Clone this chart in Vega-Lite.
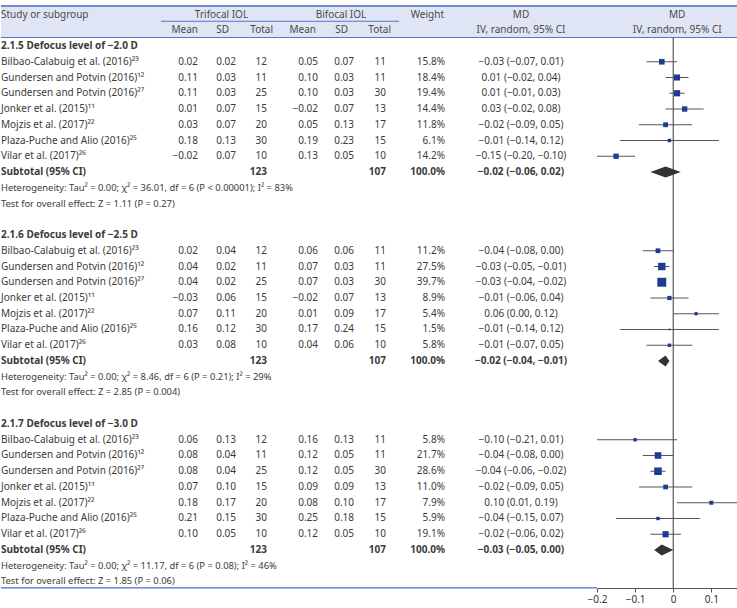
{
"$schema": "https://vega.github.io/schema/vega-lite/v6.json",
"padding": 0,
"autosize": {"type": "pad"},
"background": "white",
"spacing": 0,
"bounds": "flush",
"config": {
 "view": {"stroke": null},
 "text": {"font": "Noto Sans", "fontSize": 10, "color": "#3b3b3b", "baseline": "middle"},
 "concat": {"spacing": 0}
},
"datasets": {"rows": [
{"row":0,"kind":"group","label":"2.1.5 Defocus level of −2.0 D"},
{"row":1,"kind":"study","label":"Bilbao-Calabuig et al. (2016)²³","tm":0.02,"tsd":0.02,"tn":12,"bm":0.05,"bsd":0.07,"bn":11,"w":0.158,"md":"−0.03 (−0.07, 0.01)","est":-0.03,"lo":-0.07,"hi":0.01},
{"row":2,"kind":"study","label":"Gundersen and Potvin (2016)¹²","tm":0.11,"tsd":0.03,"tn":11,"bm":0.10,"bsd":0.03,"bn":11,"w":0.184,"md":"0.01 (−0.02, 0.04)","est":0.01,"lo":-0.02,"hi":0.04},
{"row":3,"kind":"study","label":"Gundersen and Potvin (2016)²⁷","tm":0.11,"tsd":0.03,"tn":25,"bm":0.10,"bsd":0.03,"bn":30,"w":0.194,"md":"0.01 (−0.01, 0.03)","est":0.01,"lo":-0.01,"hi":0.03},
{"row":4,"kind":"study","label":"Jonker et al. (2015)¹¹","tm":0.01,"tsd":0.07,"tn":15,"bm":-0.02,"bsd":0.07,"bn":13,"w":0.144,"md":"0.03 (−0.02, 0.08)","est":0.03,"lo":-0.02,"hi":0.08},
{"row":5,"kind":"study","label":"Mojzis et al. (2017)²²","tm":0.03,"tsd":0.07,"tn":20,"bm":0.05,"bsd":0.13,"bn":17,"w":0.118,"md":"−0.02 (−0.09, 0.05)","est":-0.02,"lo":-0.09,"hi":0.05},
{"row":6,"kind":"study","label":"Plaza-Puche and Alio (2016)²⁵","tm":0.18,"tsd":0.13,"tn":30,"bm":0.19,"bsd":0.23,"bn":15,"w":0.061,"md":"−0.01 (−0.14, 0.12)","est":-0.01,"lo":-0.14,"hi":0.12},
{"row":7,"kind":"study","label":"Vilar et al. (2017)²⁶","tm":-0.02,"tsd":0.07,"tn":10,"bm":0.13,"bsd":0.05,"bn":10,"w":0.142,"md":"−0.15 (−0.20, −0.10)","est":-0.15,"lo":-0.20,"hi":-0.10},
{"row":8,"kind":"sub","label":"Subtotal (95% CI)","tn":123,"bn":107,"w":1,"md":"−0.02 (−0.06, 0.02)","est":-0.02,"lo":-0.06,"hi":0.02},
{"row":9,"kind":"het","label":"Heterogeneity: Tau² = 0.00; χ² = 36.01, df = 6 (P < 0.00001); I² = 83%"},
{"row":10,"kind":"test","label":"Test for overall effect: Z = 1.11 (P = 0.27)"},
{"row":12,"kind":"group","label":"2.1.6 Defocus level of −2.5 D"},
{"row":13,"kind":"study","label":"Bilbao-Calabuig et al. (2016)²³","tm":0.02,"tsd":0.04,"tn":12,"bm":0.06,"bsd":0.06,"bn":11,"w":0.112,"md":"−0.04 (−0.08, 0.00)","est":-0.04,"lo":-0.08,"hi":0.00},
{"row":14,"kind":"study","label":"Gundersen and Potvin (2016)¹²","tm":0.04,"tsd":0.02,"tn":11,"bm":0.07,"bsd":0.03,"bn":11,"w":0.275,"md":"−0.03 (−0.05, −0.01)","est":-0.03,"lo":-0.05,"hi":-0.01},
{"row":15,"kind":"study","label":"Gundersen and Potvin (2016)²⁷","tm":0.04,"tsd":0.02,"tn":25,"bm":0.07,"bsd":0.03,"bn":30,"w":0.397,"md":"−0.03 (−0.04, −0.02)","est":-0.03,"lo":-0.04,"hi":-0.02},
{"row":16,"kind":"study","label":"Jonker et al. (2015)¹¹","tm":-0.03,"tsd":0.06,"tn":15,"bm":-0.02,"bsd":0.07,"bn":13,"w":0.089,"md":"−0.01 (−0.06, 0.04)","est":-0.01,"lo":-0.06,"hi":0.04},
{"row":17,"kind":"study","label":"Mojzis et al. (2017)²²","tm":0.07,"tsd":0.11,"tn":20,"bm":0.01,"bsd":0.09,"bn":17,"w":0.054,"md":"0.06 (0.00, 0.12)","est":0.06,"lo":0.00,"hi":0.12},
{"row":18,"kind":"study","label":"Plaza-Puche and Alio (2016)²⁵","tm":0.16,"tsd":0.12,"tn":30,"bm":0.17,"bsd":0.24,"bn":15,"w":0.015,"md":"−0.01 (−0.14, 0.12)","est":-0.01,"lo":-0.14,"hi":0.12},
{"row":19,"kind":"study","label":"Vilar et al. (2017)²⁶","tm":0.03,"tsd":0.08,"tn":10,"bm":0.04,"bsd":0.06,"bn":10,"w":0.058,"md":"−0.01 (−0.07, 0.05)","est":-0.01,"lo":-0.07,"hi":0.05},
{"row":20,"kind":"sub","label":"Subtotal (95% CI)","tn":123,"bn":107,"w":1,"md":"−0.02 (−0.04, −0.01)","est":-0.02,"lo":-0.04,"hi":-0.01},
{"row":21,"kind":"het","label":"Heterogeneity: Tau² = 0.00; χ² = 8.46, df = 6 (P = 0.21); I² = 29%"},
{"row":22,"kind":"test","label":"Test for overall effect: Z = 2.85 (P = 0.004)"},
{"row":24,"kind":"group","label":"2.1.7 Defocus level of −3.0 D"},
{"row":25,"kind":"study","label":"Bilbao-Calabuig et al. (2016)²³","tm":0.06,"tsd":0.13,"tn":12,"bm":0.16,"bsd":0.13,"bn":11,"w":0.058,"md":"−0.10 (−0.21, 0.01)","est":-0.10,"lo":-0.21,"hi":0.01},
{"row":26,"kind":"study","label":"Gundersen and Potvin (2016)¹²","tm":0.08,"tsd":0.04,"tn":11,"bm":0.12,"bsd":0.05,"bn":11,"w":0.217,"md":"−0.04 (−0.08, 0.00)","est":-0.04,"lo":-0.08,"hi":0.00},
{"row":27,"kind":"study","label":"Gundersen and Potvin (2016)²⁷","tm":0.08,"tsd":0.04,"tn":25,"bm":0.12,"bsd":0.05,"bn":30,"w":0.286,"md":"−0.04 (−0.06, −0.02)","est":-0.04,"lo":-0.06,"hi":-0.02},
{"row":28,"kind":"study","label":"Jonker et al. (2015)¹¹","tm":0.07,"tsd":0.10,"tn":15,"bm":0.09,"bsd":0.09,"bn":13,"w":0.110,"md":"−0.02 (−0.09, 0.05)","est":-0.02,"lo":-0.09,"hi":0.05},
{"row":29,"kind":"study","label":"Mojzis et al. (2017)²²","tm":0.18,"tsd":0.17,"tn":20,"bm":0.08,"bsd":0.10,"bn":17,"w":0.079,"md":"0.10 (0.01, 0.19)","est":0.10,"lo":0.01,"hi":0.19},
{"row":30,"kind":"study","label":"Plaza-Puche and Alio (2016)²⁵","tm":0.21,"tsd":0.15,"tn":30,"bm":0.25,"bsd":0.18,"bn":15,"w":0.059,"md":"−0.04 (−0.15, 0.07)","est":-0.04,"lo":-0.15,"hi":0.07},
{"row":31,"kind":"study","label":"Vilar et al. (2017)²⁶","tm":0.10,"tsd":0.05,"tn":10,"bm":0.12,"bsd":0.05,"bn":10,"w":0.191,"md":"−0.02 (−0.06, 0.02)","est":-0.02,"lo":-0.06,"hi":0.02},
{"row":32,"kind":"sub","label":"Subtotal (95% CI)","tn":123,"bn":107,"w":1,"md":"−0.03 (−0.05, 0.00)","est":-0.03,"lo":-0.05,"hi":0.00},
{"row":33,"kind":"het","label":"Heterogeneity: Tau² = 0.00; χ² = 11.17, df = 6 (P = 0.08); I² = 46%"},
{"row":34,"kind":"test","label":"Test for overall effect: Z = 1.85 (P = 0.06)"}
]},
"hconcat": [
{
 "width": 160, "height": 588, "data": {"name": "rows"},
 "layer": [
  {"data":{"values":[{}]},"mark":{"type":"rect","color":"#dfe5f5"},"encoding":{"y":{"datum":-2.54,"type":"quantitative","scale":{"domain":[-2.921,34.413],"nice":false,"zero":false,"reverse":true},"axis":null},"y2":{"datum":-0.54}}},
  {"data":{"values":[{}]},"mark":{"type":"rule","color":"#7489c9","strokeWidth":2},"encoding":{"y":{"datum":-2.54,"type":"quantitative"}}},
  {"data":{"values":[{}]},"mark":{"type":"rule","color":"#5a76c6","strokeWidth":1.2},"encoding":{"y":{"datum":-0.54,"type":"quantitative"}}},
  {"data":{"values":[{}]},"mark":{"type":"rule","color":"#4c6fcc","strokeWidth":1.2},"encoding":{"y":{"datum":34.41,"type":"quantitative"}}},
  {"data":{"values":[{}]},"mark":{"type":"text","align":"left","text":"Study or subgroup","color":"#4a4a4a"},"encoding":{"x":{"datum":"c","type":"nominal","scale":{"type":"band","paddingInner":0,"paddingOuter":0},"bandPosition":0,"axis":null},"y":{"datum":-2,"type":"quantitative"}}},
  {"transform":[{"filter":"datum.kind==='study'"}],"mark":{"type":"text","align":"left"},"encoding":{"x":{"datum":"c","type":"nominal","bandPosition":0},"y":{"field":"row","type":"quantitative"},"text":{"field":"label"}}},
  {"transform":[{"filter":"datum.kind==='group'||datum.kind==='sub'"}],"mark":{"type":"text","align":"left","fontWeight":"bold"},"encoding":{"x":{"datum":"c","type":"nominal","bandPosition":0},"y":{"field":"row","type":"quantitative"},"text":{"field":"label"}}},
  {"transform":[{"filter":"datum.kind==='het'||datum.kind==='test'"}],"mark":{"type":"text","align":"left","fontSize":9.4},"encoding":{"x":{"datum":"c","type":"nominal","bandPosition":0},"y":{"field":"row","type":"quantitative"},"text":{"field":"label"}}}
 ]
},
{
 "width": 37, "height": 588, "data": {"name": "rows"},
 "layer": [
  {"data":{"values":[{}]},"mark":{"type":"rect","color":"#dfe5f5"},"encoding":{"y":{"datum":-2.54,"type":"quantitative","scale":{"domain":[-2.921,34.413],"nice":false,"zero":false,"reverse":true},"axis":null},"y2":{"datum":-0.54}}},
  {"data":{"values":[{}]},"mark":{"type":"rule","color":"#7489c9","strokeWidth":2},"encoding":{"y":{"datum":-2.54,"type":"quantitative"}}},
  {"data":{"values":[{}]},"mark":{"type":"rule","color":"#5a76c6","strokeWidth":1.2},"encoding":{"y":{"datum":-0.54,"type":"quantitative"}}},
  {"data":{"values":[{}]},"mark":{"type":"rule","color":"#4c6fcc","strokeWidth":1.2},"encoding":{"y":{"datum":34.41,"type":"quantitative"}}},
  {"data":{"values":[{}]},"mark":{"type":"rule","color":"#5a76c6","strokeWidth":1,"xOffset":5},"encoding":{"y":{"datum":-1.57,"type":"quantitative"}}},
  {"data":{"values":[{}]},"mark":{"type":"text","align":"right","text":"Mean","color":"#4a4a4a"},"encoding":{"x":{"datum":"c","type":"nominal","scale":{"type":"band","paddingInner":0,"paddingOuter":0},"bandPosition":1,"axis":null},"y":{"datum":-1,"type":"quantitative"}}},
  {"transform":[{"filter":"datum.kind==='study'"}],"mark":{"type":"text","align":"right"},"encoding":{"x":{"datum":"c","type":"nominal","bandPosition":1},"y":{"field":"row","type":"quantitative"},"text":{"field":"tm","type":"quantitative","format":".2f"}}}
 ]
},
{
 "width": 38, "height": 588, "data": {"name": "rows"},
 "layer": [
  {"data":{"values":[{}]},"mark":{"type":"rect","color":"#dfe5f5"},"encoding":{"y":{"datum":-2.54,"type":"quantitative","scale":{"domain":[-2.921,34.413],"nice":false,"zero":false,"reverse":true},"axis":null},"y2":{"datum":-0.54}}},
  {"data":{"values":[{}]},"mark":{"type":"rule","color":"#7489c9","strokeWidth":2},"encoding":{"y":{"datum":-2.54,"type":"quantitative"}}},
  {"data":{"values":[{}]},"mark":{"type":"rule","color":"#5a76c6","strokeWidth":1.2},"encoding":{"y":{"datum":-0.54,"type":"quantitative"}}},
  {"data":{"values":[{}]},"mark":{"type":"rule","color":"#4c6fcc","strokeWidth":1.2},"encoding":{"y":{"datum":34.41,"type":"quantitative"}}},
  {"data":{"values":[{}]},"mark":{"type":"rule","color":"#5a76c6","strokeWidth":1},"encoding":{"y":{"datum":-1.57,"type":"quantitative"}}},
  {"data":{"values":[{}]},"mark":{"type":"text","align":"right","text":"SD","color":"#4a4a4a","dx":-7},"encoding":{"x":{"datum":"c","type":"nominal","scale":{"type":"band","paddingInner":0,"paddingOuter":0},"bandPosition":1,"axis":null},"y":{"datum":-1,"type":"quantitative"}}},
  {"transform":[{"filter":"datum.kind==='study'"}],"mark":{"type":"text","align":"right"},"encoding":{"x":{"datum":"c","type":"nominal","bandPosition":1},"y":{"field":"row","type":"quantitative"},"text":{"field":"tsd","type":"quantitative","format":".2f"}}}
 ]
},
{
 "width": 43, "height": 588, "data": {"name": "rows"},
 "layer": [
  {"data":{"values":[{}]},"mark":{"type":"rect","color":"#dfe5f5"},"encoding":{"y":{"datum":-2.54,"type":"quantitative","scale":{"domain":[-2.921,34.413],"nice":false,"zero":false,"reverse":true},"axis":null},"y2":{"datum":-0.54}}},
  {"data":{"values":[{}]},"mark":{"type":"rule","color":"#7489c9","strokeWidth":2},"encoding":{"y":{"datum":-2.54,"type":"quantitative"}}},
  {"data":{"values":[{}]},"mark":{"type":"rule","color":"#5a76c6","strokeWidth":1.2},"encoding":{"y":{"datum":-0.54,"type":"quantitative"}}},
  {"data":{"values":[{}]},"mark":{"type":"rule","color":"#4c6fcc","strokeWidth":1.2},"encoding":{"y":{"datum":34.41,"type":"quantitative"}}},
  {"data":{"values":[{}]},"mark":{"type":"rule","color":"#5a76c6","strokeWidth":1},"encoding":{"y":{"datum":-1.57,"type":"quantitative"}}},
  {"data":{"values":[{}]},"mark":{"type":"text","align":"center","text":"Trifocal IOL","color":"#4a4a4a","dx":-36},"encoding":{"x":{"datum":"c","type":"nominal","scale":{"type":"band","paddingInner":0,"paddingOuter":0},"bandPosition":0.5,"axis":null},"y":{"datum":-2,"type":"quantitative"}}},
  {"data":{"values":[{}]},"mark":{"type":"text","align":"right","text":"Total","color":"#4a4a4a","dx":-6},"encoding":{"x":{"datum":"c","type":"nominal","bandPosition":1},"y":{"datum":-1,"type":"quantitative"}}},
  {"transform":[{"filter":"datum.kind==='study'"}],"mark":{"type":"text","align":"right","dx":-12},"encoding":{"x":{"datum":"c","type":"nominal","bandPosition":1},"y":{"field":"row","type":"quantitative"},"text":{"field":"tn","type":"quantitative","format":"d"}}},
  {"transform":[{"filter":"datum.kind==='sub'"}],"mark":{"type":"text","align":"right","dx":-12,"fontWeight":"bold"},"encoding":{"x":{"datum":"c","type":"nominal","bandPosition":1},"y":{"field":"row","type":"quantitative"},"text":{"field":"tn","type":"quantitative","format":"d"}}}
 ]
},
{
 "width": 39, "height": 588, "data": {"name": "rows"},
 "layer": [
  {"data":{"values":[{}]},"mark":{"type":"rect","color":"#dfe5f5"},"encoding":{"y":{"datum":-2.54,"type":"quantitative","scale":{"domain":[-2.921,34.413],"nice":false,"zero":false,"reverse":true},"axis":null},"y2":{"datum":-0.54}}},
  {"data":{"values":[{}]},"mark":{"type":"rule","color":"#7489c9","strokeWidth":2},"encoding":{"y":{"datum":-2.54,"type":"quantitative"}}},
  {"data":{"values":[{}]},"mark":{"type":"rule","color":"#5a76c6","strokeWidth":1.2},"encoding":{"y":{"datum":-0.54,"type":"quantitative"}}},
  {"data":{"values":[{}]},"mark":{"type":"rule","color":"#4c6fcc","strokeWidth":1.2},"encoding":{"y":{"datum":34.41,"type":"quantitative"}}},
  {"data":{"values":[{}]},"mark":{"type":"rule","color":"#5a76c6","strokeWidth":1,"xOffset":6},"encoding":{"y":{"datum":-1.57,"type":"quantitative"}}},
  {"data":{"values":[{}]},"mark":{"type":"text","align":"right","text":"Mean","color":"#4a4a4a","dx":-2},"encoding":{"x":{"datum":"c","type":"nominal","scale":{"type":"band","paddingInner":0,"paddingOuter":0},"bandPosition":1,"axis":null},"y":{"datum":-1,"type":"quantitative"}}},
  {"transform":[{"filter":"datum.kind==='study'"}],"mark":{"type":"text","align":"right"},"encoding":{"x":{"datum":"c","type":"nominal","bandPosition":1},"y":{"field":"row","type":"quantitative"},"text":{"field":"bm","type":"quantitative","format":".2f"}}}
 ]
},
{
 "width": 36, "height": 588, "data": {"name": "rows"},
 "layer": [
  {"data":{"values":[{}]},"mark":{"type":"rect","color":"#dfe5f5"},"encoding":{"y":{"datum":-2.54,"type":"quantitative","scale":{"domain":[-2.921,34.413],"nice":false,"zero":false,"reverse":true},"axis":null},"y2":{"datum":-0.54}}},
  {"data":{"values":[{}]},"mark":{"type":"rule","color":"#7489c9","strokeWidth":2},"encoding":{"y":{"datum":-2.54,"type":"quantitative"}}},
  {"data":{"values":[{}]},"mark":{"type":"rule","color":"#5a76c6","strokeWidth":1.2},"encoding":{"y":{"datum":-0.54,"type":"quantitative"}}},
  {"data":{"values":[{}]},"mark":{"type":"rule","color":"#4c6fcc","strokeWidth":1.2},"encoding":{"y":{"datum":34.41,"type":"quantitative"}}},
  {"data":{"values":[{}]},"mark":{"type":"rule","color":"#5a76c6","strokeWidth":1},"encoding":{"y":{"datum":-1.57,"type":"quantitative"}}},
  {"data":{"values":[{}]},"mark":{"type":"text","align":"right","text":"SD","color":"#4a4a4a","dx":-6},"encoding":{"x":{"datum":"c","type":"nominal","scale":{"type":"band","paddingInner":0,"paddingOuter":0},"bandPosition":1,"axis":null},"y":{"datum":-1,"type":"quantitative"}}},
  {"transform":[{"filter":"datum.kind==='study'"}],"mark":{"type":"text","align":"right"},"encoding":{"x":{"datum":"c","type":"nominal","bandPosition":1},"y":{"field":"row","type":"quantitative"},"text":{"field":"bsd","type":"quantitative","format":".2f"}}}
 ]
},
{
 "width": 45, "height": 588, "data": {"name": "rows"},
 "layer": [
  {"data":{"values":[{}]},"mark":{"type":"rect","color":"#dfe5f5"},"encoding":{"y":{"datum":-2.54,"type":"quantitative","scale":{"domain":[-2.921,34.413],"nice":false,"zero":false,"reverse":true},"axis":null},"y2":{"datum":-0.54}}},
  {"data":{"values":[{}]},"mark":{"type":"rule","color":"#7489c9","strokeWidth":2},"encoding":{"y":{"datum":-2.54,"type":"quantitative"}}},
  {"data":{"values":[{}]},"mark":{"type":"rule","color":"#5a76c6","strokeWidth":1.2},"encoding":{"y":{"datum":-0.54,"type":"quantitative"}}},
  {"data":{"values":[{}]},"mark":{"type":"rule","color":"#4c6fcc","strokeWidth":1.2},"encoding":{"y":{"datum":34.41,"type":"quantitative"}}},
  {"data":{"values":[{}]},"mark":{"type":"rule","color":"#5a76c6","strokeWidth":1},"encoding":{"y":{"datum":-1.57,"type":"quantitative"}}},
  {"data":{"values":[{}]},"mark":{"type":"text","align":"center","text":"Bifocal IOL","color":"#4a4a4a","dx":-35.5},"encoding":{"x":{"datum":"c","type":"nominal","scale":{"type":"band","paddingInner":0,"paddingOuter":0},"bandPosition":0.5,"axis":null},"y":{"datum":-2,"type":"quantitative"}}},
  {"data":{"values":[{}]},"mark":{"type":"text","align":"right","text":"Total","color":"#4a4a4a","dx":-8},"encoding":{"x":{"datum":"c","type":"nominal","bandPosition":1},"y":{"datum":-1,"type":"quantitative"}}},
  {"transform":[{"filter":"datum.kind==='study'"}],"mark":{"type":"text","align":"right","dx":-13},"encoding":{"x":{"datum":"c","type":"nominal","bandPosition":1},"y":{"field":"row","type":"quantitative"},"text":{"field":"bn","type":"quantitative","format":"d"}}},
  {"transform":[{"filter":"datum.kind==='sub'"}],"mark":{"type":"text","align":"right","dx":-13,"fontWeight":"bold"},"encoding":{"x":{"datum":"c","type":"nominal","bandPosition":1},"y":{"field":"row","type":"quantitative"},"text":{"field":"bn","type":"quantitative","format":"d"}}}
 ]
},
{
 "width": 46, "height": 588, "data": {"name": "rows"},
 "layer": [
  {"data":{"values":[{}]},"mark":{"type":"rect","color":"#dfe5f5"},"encoding":{"y":{"datum":-2.54,"type":"quantitative","scale":{"domain":[-2.921,34.413],"nice":false,"zero":false,"reverse":true},"axis":null},"y2":{"datum":-0.54}}},
  {"data":{"values":[{}]},"mark":{"type":"rule","color":"#7489c9","strokeWidth":2},"encoding":{"y":{"datum":-2.54,"type":"quantitative"}}},
  {"data":{"values":[{}]},"mark":{"type":"rule","color":"#5a76c6","strokeWidth":1.2},"encoding":{"y":{"datum":-0.54,"type":"quantitative"}}},
  {"data":{"values":[{}]},"mark":{"type":"rule","color":"#4c6fcc","strokeWidth":1.2},"encoding":{"y":{"datum":34.41,"type":"quantitative"}}},
  {"data":{"values":[{}]},"mark":{"type":"text","align":"right","text":"Weight","color":"#4a4a4a","dx":-1},"encoding":{"x":{"datum":"c","type":"nominal","scale":{"type":"band","paddingInner":0,"paddingOuter":0},"bandPosition":1,"axis":null},"y":{"datum":-2,"type":"quantitative"}}},
  {"transform":[{"filter":"datum.kind==='study'"}],"mark":{"type":"text","align":"right"},"encoding":{"x":{"datum":"c","type":"nominal","bandPosition":1},"y":{"field":"row","type":"quantitative"},"text":{"field":"w","type":"quantitative","format":".1%"}}},
  {"transform":[{"filter":"datum.kind==='sub'"}],"mark":{"type":"text","align":"right","fontWeight":"bold"},"encoding":{"x":{"datum":"c","type":"nominal","bandPosition":1},"y":{"field":"row","type":"quantitative"},"text":{"field":"w","type":"quantitative","format":".1%"}}}
 ]
},
{
 "width": 152, "height": 588, "data": {"name": "rows"},
 "layer": [
  {"data":{"values":[{}]},"mark":{"type":"rect","color":"#dfe5f5"},"encoding":{"y":{"datum":-2.54,"type":"quantitative","scale":{"domain":[-2.921,34.413],"nice":false,"zero":false,"reverse":true},"axis":null},"y2":{"datum":-0.54}}},
  {"data":{"values":[{}]},"mark":{"type":"rule","color":"#7489c9","strokeWidth":2},"encoding":{"y":{"datum":-2.54,"type":"quantitative"}}},
  {"data":{"values":[{}]},"mark":{"type":"rule","color":"#5a76c6","strokeWidth":1.2},"encoding":{"y":{"datum":-0.54,"type":"quantitative"}}},
  {"data":{"values":[{}]},"mark":{"type":"rule","color":"#4c6fcc","strokeWidth":1.2},"encoding":{"y":{"datum":34.41,"type":"quantitative"}}},
  {"data":{"values":[{}]},"mark":{"type":"text","align":"center","text":"MD","color":"#4a4a4a"},"encoding":{"x":{"datum":"c","type":"nominal","scale":{"type":"band","paddingInner":0,"paddingOuter":0},"bandPosition":0.5,"axis":null},"y":{"datum":-2,"type":"quantitative"}}},
  {"data":{"values":[{}]},"mark":{"type":"text","align":"center","text":"IV, random, 95% CI","color":"#4a4a4a"},"encoding":{"x":{"datum":"c","type":"nominal","bandPosition":0.5},"y":{"datum":-1,"type":"quantitative"}}},
  {"transform":[{"filter":"datum.kind==='study'"}],"mark":{"type":"text","align":"center"},"encoding":{"x":{"datum":"c","type":"nominal","bandPosition":0.5},"y":{"field":"row","type":"quantitative"},"text":{"field":"md"}}},
  {"transform":[{"filter":"datum.kind==='sub'"}],"mark":{"type":"text","align":"center","fontWeight":"bold"},"encoding":{"x":{"datum":"c","type":"nominal","bandPosition":0.5},"y":{"field":"row","type":"quantitative"},"text":{"field":"md"}}}
 ]
},
{
 "width": 141, "height": 588, "data": {"name": "rows"},
 "layer": [
  {"data":{"values":[{}]},"mark":{"type":"rect","color":"#dfe5f5"},"encoding":{"y":{"datum":-2.54,"type":"quantitative","scale":{"domain":[-2.921,34.413],"nice":false,"zero":false,"reverse":true},"axis":null},"y2":{"datum":-0.54}}},
  {"data":{"values":[{}]},"mark":{"type":"rule","color":"#7489c9","strokeWidth":2},"encoding":{"y":{"datum":-2.54,"type":"quantitative"}}},
  {"data":{"values":[{}]},"mark":{"type":"rule","color":"#5a76c6","strokeWidth":1.2},"encoding":{"y":{"datum":-0.54,"type":"quantitative"}}},
  {"data":{"values":[{}]},"mark":{"type":"text","align":"center","text":"MD","color":"#4a4a4a","dx":4},"encoding":{"x":{"datum":0,"type":"quantitative","scale":{"domain":[-0.2,0.17],"nice":false,"zero":false},"axis":{"values":[-0.2,-0.1,0,0.1],"format":"~f","title":null,"grid":false,"domainColor":"#555555","tickColor":"#555555","tickSize":4,"labelColor":"#333333","labelFontSize":10,"labelFont":"Noto Sans","labelPadding":2,"labelFlush":false}},"y":{"datum":-2,"type":"quantitative"}}},
  {"data":{"values":[{}]},"mark":{"type":"text","align":"center","text":"IV, random, 95% CI","color":"#4a4a4a","dx":4},"encoding":{"x":{"datum":0,"type":"quantitative"},"y":{"datum":-1,"type":"quantitative"}}},
  {"data":{"values":[{}]},"mark":{"type":"rule","color":"#333333","strokeWidth":1},"encoding":{"x":{"datum":0,"type":"quantitative"},"y":{"datum":-0.54,"type":"quantitative"},"y2":{"datum":34.41}}},
  {"transform":[{"filter":"datum.kind==='study'"}],"mark":{"type":"rule","color":"#555555","strokeWidth":1,"clip":true},"encoding":{"x":{"field":"lo","type":"quantitative"},"x2":{"field":"hi"},"y":{"field":"row","type":"quantitative"}}},
  {"transform":[{"filter":"datum.kind==='study'"}],"mark":{"type":"point","shape":"square","filled":true,"color":"#1c3c91","opacity":1},"encoding":{"x":{"field":"est","type":"quantitative"},"y":{"field":"row","type":"quantitative"},"size":{"field":"w","type":"quantitative","scale":{"domain":[0,0.4],"range":[0,80]},"legend":null}}},
  {"transform":[{"filter":"datum.kind==='sub'"}],"mark":{"type":"point","filled":true,"color":"#333333","opacity":1,"size":4},"encoding":{"x":{"field":"est","type":"quantitative"},"y":{"field":"row","type":"quantitative"},"shape":{"field":"row","type":"nominal","scale":{"domain":[8,20,32],"range":["M-15.2,0L0,-5.5L15.2,0L0,5.5Z","M-7.6,0L0,-5.5L3.8,0L0,5.5Z","M-7.6,0L0,-5.5L11.4,0L0,5.5Z"]},"legend":null}}}
 ]
}
]
}
